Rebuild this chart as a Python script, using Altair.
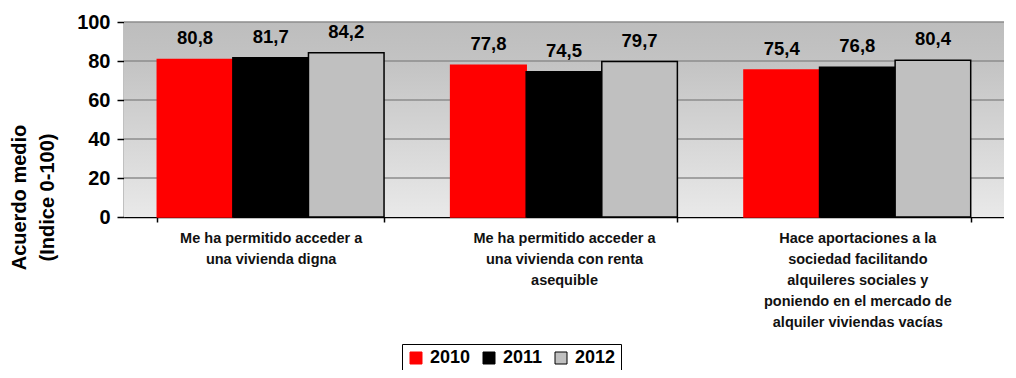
import altair as alt
import pandas as pd

categories = [
    "Me ha permitido acceder a\nuna vivienda digna",
    "Me ha permitido acceder a\nuna vivienda con renta\nasequible",
    "Hace aportaciones a la\nsociedad facilitando\nalquileres sociales y\nponiendo en el mercado de\nalquiler viviendas vacías",
]
years = ["2010", "2011", "2012"]
v2010 = [80.8, 77.8, 75.4]
v2011 = [81.7, 74.5, 76.8]
v2012 = [84.2, 79.7, 80.4]
fill_colors = ["#ff0000", "#000000", "#c0c0c0"]
stroke_colors = ["#ff0000", "#000000", "#000000"]
y_ticks = [0, 20, 40, 60, 80, 100]
y_title = ["Acuerdo medio", "(Indice 0-100)"]

rows = []
for yr, vals in zip(years, [v2010, v2011, v2012]):
    for c, v in zip(categories, vals):
        rows.append({"categoria": c, "anio": yr, "valor": v})
df = pd.DataFrame(rows)
grid_df = pd.DataFrame({"g": y_ticks[1:]})

W, H = 880, 195
FONT = "Liberation Sans"

yscale = alt.Scale(domain=[0, 100])
xscale = alt.Scale(paddingInner=0.227, paddingOuter=0.1135)

y_axis = alt.Axis(
    title=y_title, titleFont=FONT, titleFontSize=20, titleFontWeight="bold",
    titleColor="black", titleAngle=270, titleX=-115, titleY=175,
    titleAlign="center", titleBaseline="top", titleLineHeight=28,
    values=y_ticks, grid=False, labelFont=FONT, labelFontSize=20,
    labelFontWeight="bold", labelColor="black", labelPadding=7,
    tickSize=7, tickColor="black", tickWidth=1.5, domainColor="black",
    domainWidth=1.5,
)
x_axis = alt.Axis(
    title=None, labelExpr="split(datum.label, '\\n')", labelFont=FONT,
    labelFontSize=14.5, labelFontWeight="bold", labelColor="#111111",
    labelLineHeight=21, labelPadding=9, labelAngle=0, labelBaseline="top",
    labelLimit=500, tickBand="extent", tickColor="black", tickSize=5,
    tickWidth=1.5, domainColor="black", domainWidth=1.5,
)

legend = alt.Legend(
    title=None, orient="none", direction="horizontal", legendX=278,
    legendY=322, symbolType="square", symbolSize=144, symbolStrokeWidth=1,
    labelFont=FONT, labelFontSize=18, labelFontWeight="bold",
    labelColor="black", labelOffset=5, columnPadding=9,
    strokeColor="black", padding=5,
)

bg = alt.Chart(pd.DataFrame({"k": [0]})).mark_rect(
    fill=alt.Gradient(
        gradient="linear", x1=0, y1=0, x2=0, y2=1,
        stops=[
            alt.GradientStop(color="#bdbdbd", offset=0),
            alt.GradientStop(color="#c3c3c3", offset=0.2),
            alt.GradientStop(color="#e9e9e9", offset=1),
        ],
    )
).encode(x=alt.value(0), x2=alt.value(W), y=alt.value(0), y2=alt.value(H))

grid = alt.Chart(grid_df).mark_rule(color="#8c8c8c", strokeWidth=1.5).encode(
    y=alt.Y("g:Q", scale=yscale, axis=y_axis)
)

bars = alt.Chart(df).mark_bar(strokeWidth=1.5).encode(
    x=alt.X("categoria:N", sort=categories, scale=xscale, axis=x_axis),
    xOffset=alt.XOffset("anio:N", sort=years, scale=alt.Scale(paddingInner=0, paddingOuter=0)),
    y=alt.Y("valor:Q", scale=yscale, axis=y_axis),
    fill=alt.Fill("anio:N", scale=alt.Scale(domain=years, range=fill_colors), legend=legend),
    stroke=alt.Stroke("anio:N", scale=alt.Scale(domain=years, range=stroke_colors), legend=legend),
)

labels = alt.Chart(df).transform_calculate(
    lbl="replace(format(datum.valor, '.1f'), '.', ',')"
).mark_text(
    font=FONT, fontSize=18.5, fontWeight="bold", baseline="alphabetic", dy=-15, color="black"
).encode(
    x=alt.X("categoria:N", sort=categories, scale=xscale, axis=x_axis),
    xOffset=alt.XOffset("anio:N", sort=years, scale=alt.Scale(paddingInner=0, paddingOuter=0)),
    y=alt.Y("valor:Q", scale=yscale, axis=y_axis),
    text="lbl:N",
)

chart = alt.layer(bg, grid, bars, labels).properties(
    width=W, height=H,
    autosize=alt.AutoSizeParams(type="none"),
    padding={"left": 116, "top": 14, "right": 0, "bottom": 153},
    background="white",
).configure_view(stroke=None)

chart.save("out.html", embed_options={"renderer": "svg", "actions": False})
